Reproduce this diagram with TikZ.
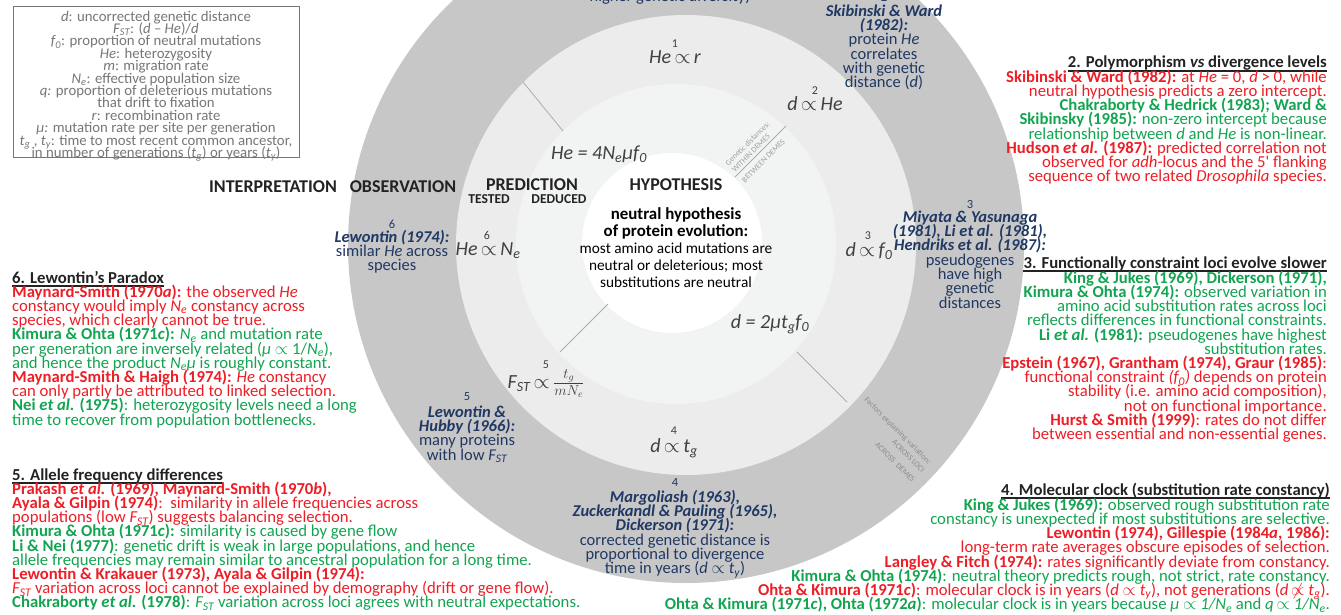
\documentclass[tikz,border=0pt]{standalone}
\usepackage{fontspec}
\setmainfont{Carlito}
\usetikzlibrary{calc}
\definecolor{cred}{RGB}{236,30,38}
\definecolor{cgrn}{RGB}{18,164,80}
\definecolor{cblu}{RGB}{31,56,100}
\definecolor{cdark}{RGB}{34,34,34}
\definecolor{cform}{RGB}{64,64,64}
\definecolor{cleg}{RGB}{118,118,118}
\definecolor{ringA}{RGB}{200,199,199}
\definecolor{ringB}{RGB}{236,236,236}
\definecolor{ringC}{RGB}{242,243,243}
\definecolor{cline}{RGB}{172,172,172}
\definecolor{clabA}{RGB}{160,160,160}
\definecolor{clabB}{RGB}{140,140,140}
\newcommand\rtx[1]{\textcolor{cred}{#1}}
\newcommand\gtx[1]{\textcolor{cgrn}{#1}}
\newcommand\ppto{\ensuremath{\mathord{\propto}}}
\newcommand\nppto{\ensuremath{\mathord{\not\propto}}}
\newcommand\fst{\rule{0pt}{13pt}}
\lineskiplimit=-100pt
\lineskip=0pt
\begin{document}
\begin{tikzpicture}[x=1pt,y=-1pt,
  sec/.style={inner sep=0pt, font=\fontsize{16.7}{14.2}\selectfont},
  head/.style={inner sep=0pt, text=cdark, font=\fontsize{16.7}{14.2}\selectfont\bfseries},
  uline/.style={cdark, line width=1.5pt},
  obs/.style={inner sep=0pt, align=center, text=cblu, anchor=north, font=\fontsize{16.5}{14.3}\selectfont},
  onum/.style={inner sep=0pt, text=cblu, font=\fontsize{12.5}{12}\selectfont},
  fnum/.style={inner sep=0pt, text=cform, font=\fontsize{12}{12}\selectfont},
  form/.style={inner sep=0pt, text=cform, anchor=base, font=\fontsize{20}{20}\selectfont\itshape},
  hdr/.style={inner sep=0pt, text=cdark, anchor=base, font=\fontsize{18}{18}\selectfont\bfseries},
  subhdr/.style={inner sep=0pt, text=cdark, anchor=base, font=\fontsize{13.6}{14}\selectfont\bfseries},
  sepline/.style={cline, line width=0.8pt},
  legtext/.style={inner sep=0pt, text=cleg, align=center, anchor=north, font=\fontsize{14.8}{12.4}\selectfont},
  tinyA/.style={inner sep=0pt, text=clabA, font=\fontsize{8}{8}\selectfont},
  tinyB/.style={inner sep=0pt, text=clabB, font=\fontsize{8}{8}\selectfont}]
\useasboundingbox (0,0) rectangle (1341,615);
% rings
\fill[ringA] (686,245) circle[radius=338];
\fill[ringB] (686,245) circle[radius=230];
\fill[ringC] (676,244) circle[radius=160];
\fill[white] (672,243) circle[radius=90];
% dividing lines
\coordinate (nwA) at (563,131); \coordinate (nwB) at (523,82);
\coordinate (seA) at (797,352); \coordinate (seB) at (847,402);
\coordinate (neA) at (735,177); \coordinate (neB) at (786,126);
\coordinate (swA) at (608,304); \coordinate (swB) at (560,352);
\draw[sepline] (nwA) -- (nwB);
\draw[sepline] (seA) -- (seB);
\draw[sepline] (neA) -- (neB);
\draw[sepline] (swA) -- (swB);
% small rotated labels
\node[tinyA, rotate=45] (gd) at (747.5,143.5) {Genetic distances:};
\node[tinyA, rotate=45] (wd) at (751,153) {WITHIN DEMES};
\node[tinyA, rotate=45] (bd) at (763.5,161) {BETWEEN DEMES};
\node[tinyB, rotate=-45] (fe) at (897.5,431) {Factors explaining variation:};
\node[tinyB, rotate=-45] (al) at (908.5,456) {ACROSS LOCI};
\node[tinyB, rotate=-45] (ad) at (895,462) {ACROSS\ \ DEMES};
% legend
\node[draw=cleg, line width=0.9pt, minimum width=286, minimum height=151, inner sep=0pt] (legendbox) at (156,81.5) {};
\node[legtext] (legend) at (156,9.5)
  {\rule{0pt}{11.5pt}\textit{d}: uncorrected genetic distance\\
   \textit{F\textsubscript{ST}}: (\textit{d} -- \textit{He})/\textit{d}\\
   \textit{f\textsubscript{0}}: proportion of neutral mutations\\
   \textit{He}: heterozygosity\\
   \textit{m}: migration rate\\
   \textit{N\textsubscript{e}}: effective population size\\
   \textit{q:} proportion of deleterious mutations\\
   that drift to fixation\\
   \textit{r}: recombination rate\\
   \textit{μ:} mutation rate per site per generation\\
   \textit{t\textsubscript{g}} , \textit{t\textsubscript{y}}: time to most recent common ancestor,\\
   in number of generations (\textit{t\textsubscript{g}}) or years (\textit{t\textsubscript{y}})};
% column headers
\node[hdr] (hint) at (273,192) {INTERPRETATION};
\node[hdr] (hobs) at (403,192) {OBSERVATION};
\node[hdr] (hpred) at (532,190) {PREDICTION};
\node[subhdr] (htest) at (489,203) {TESTED};
\node[subhdr] (hded) at (559,203) {DEDUCED};
\node[hdr] (hhyp) at (676,190) {HYPOTHESIS};
% hypothesis
\node[inner sep=0pt, align=center, anchor=north, text=black, font=\fontsize{15.3}{17}\selectfont] (hyptext) at (676,206)
  {\fst{\fontsize{16.9}{17}\selectfont\bfseries neutral hypothesis}\\
   {\fontsize{16.9}{17}\selectfont\bfseries of protein evolution:}\\
   most amino acid mutations are\\
   neutral or deleterious; most\\
   substitutions are neutral};
% predictions
\node[fnum] (p1n) at (675,44) {1};
\node[form] (p1) at (675,64) {He\,\ppto\,r};
\node[fnum] (p2n) at (815,91) {2};
\node[form] (p2) at (815,111) {d\,\ppto\,He};
\node[form] (pHe) at (599,159) {He = 4N\textsubscript{e}μf\textsubscript{0}};
\node[fnum] (p6n) at (487,235) {6};
\node[form] (p6) at (488,255) {He\,\ppto\,N\textsubscript{e}};
\node[fnum] (p3n) at (868,236) {3};
\node[form] (p3) at (869,256) {d\,\ppto\,f\textsubscript{0}};
\node[form] (pd) at (770,328) {d = 2μt\textsubscript{g}f\textsubscript{0}};
\node[fnum] (p5n) at (546,365) {5};
\node[form] (p5) at (546,388) {F\textsubscript{ST}\,\ppto\,\(\frac{t_g}{mN_e}\)};
\node[fnum] (p4n) at (674,431) {4};
\node[form] (p4) at (674,452) {d\,\ppto\,t\textsubscript{g}};
% observations
\node[obs, anchor=base] (o1) at (670,1.5) {higher genetic diversity)};
\node[onum] (o2n) at (884,-3) {2};
\node[obs] (o2) at (884,3) {\fst\textbf{\textit{Skibinski \& Ward}}\\ \textbf{\textit{(1982):}}\\ protein \textit{He}\\ correlates\\ with genetic\\ distance (\textit{d})};
\node[onum] (o3n) at (970,204) {3};
\node[obs] (o3) at (970,209) {\fst\textbf{\textit{Miyata \& Yasunaga}}\\ \textbf{\textit{(1981), Li et al. (1981),}}\\ \textbf{\textit{Hendriks et al. (1987):}}\\ pseudogenes\\ have high\\ genetic\\ distances};
\node[onum] (o6n) at (392,224) {6};
\node[obs] (o6) at (392,229) {\fst\textbf{\textit{Lewontin (1974):}}\\ similar \textit{He} across\\ species};
\node[onum] (o5n) at (467,397) {5};
\node[obs] (o5) at (467,404) {\fst\textbf{\textit{Lewontin \&}}\\ \textbf{\textit{Hubby (1966):}}\\ many proteins\\ with low \textit{F\textsubscript{ST}}};
\node[onum] (o4n) at (675,482) {4};
\node[obs] (o4) at (675,489) {\fst\textbf{\textit{Margoliash (1963),}}\\ \textbf{\textit{Zuckerkandl \& Pauling (1965),}}\\ \textbf{\textit{Dickerson (1971):}}\\ corrected genetic distance is\\ proportional to divergence\\ time in years (\textit{d} \ppto{} \textit{t\textsubscript{y}})};
% section 2
\node[head, anchor=base east] (h2) at (1327,68) {2. Polymorphism \textit{vs} divergence levels};
\draw[uline] ([yshift=-2.8pt]h2.base west) -- ([yshift=-2.8pt]h2.base east);
\node[sec, align=right, anchor=north east] (s2) at (1327,69)
  {\fst\rtx{\textbf{Skibinski \& Ward (1982):} at \textit{He} = 0, \textit{d} > 0, while}\\
   \rtx{neutral hypothesis predicts a zero intercept.}\\
   \gtx{\textbf{Chakraborty \& Hedrick (1983); Ward \&}}\\
   \gtx{\textbf{Skibinsky (1985):} non-zero intercept because}\\
   \gtx{relationship between \textit{d} and \textit{He} is non-linear.}\\
   \rtx{\textbf{Hudson \textit{et al.} (1987):} predicted correlation not}\\
   \rtx{observed for \textit{adh}-locus and the 5\textquotesingle{} flanking}\\
   \rtx{sequence of two related \textit{Drosophila} species.}};
% section 3
\node[head, anchor=base east] (h3) at (1327,268) {3. Functionally constraint loci evolve slower};
\draw[uline] ([yshift=-2.8pt]h3.base west) -- ([yshift=-2.8pt]h3.base east);
\node[sec, align=right, anchor=north east] (s3) at (1327,270)
  {\fst\gtx{\textbf{King \& Jukes (1969), Dickerson (1971),}}\\
   \gtx{\textbf{Kimura \& Ohta (1974):} observed variation in}\\
   \gtx{amino acid substitution rates across loci}\\
   \gtx{reflects differences in functional constraints.}\\
   \gtx{\textbf{Li \textit{et al.} (1981):} pseudogenes have highest}\\
   \gtx{substitution rates.}\\
   \rtx{\textbf{Epstein (1967), Grantham (1974), Graur (1985)}:}\\
   \rtx{functional constraint \textit{(f\textsubscript{0})} depends on protein}\\
   \rtx{stability (i.e. amino acid composition),}\\
   \rtx{not on functional importance.}\\
   \rtx{\textbf{Hurst \& Smith (1999)}: rates do not differ}\\
   \rtx{between essential and non-essential genes.}};
% section 4
\node[head, anchor=base east] (h4) at (1330,495) {4. Molecular clock (substitution rate constancy)};
\draw[uline] ([yshift=-2.8pt]h4.base west) -- ([yshift=-2.8pt]h4.base east);
\node[sec, align=right, anchor=north east] (s4) at (1330,497)
  {\fst\gtx{\textbf{King \& Jukes (1969):} observed rough substitution rate}\\
   \gtx{constancy is unexpected if most substitutions are selective.}\\
   \rtx{\textbf{Lewontin (1974), Gillespie (1984\textit{a}, 1986):}}\\
   \rtx{long-term rate averages obscure episodes of selection.}\\
   \rtx{\textbf{Langley \& Fitch (1974):} rates significantly deviate from constancy.}\\
   \gtx{\textbf{Kimura \& Ohta (1974)}: neutral theory predicts rough, not strict, rate constancy.}\\
   \rtx{\textbf{Ohta \& Kimura (1971\textit{c})}: molecular clock is in years (\textit{d} \ppto{} \textit{t\textsubscript{y}}), not generations (\textit{d}\,\nppto{} \textit{t\textsubscript{g}}).}\\
   \gtx{\textbf{Ohta \& Kimura (1971\textit{c}), Ohta (1972\textit{a})}: molecular clock is in years because \textit{μ} \ppto{} \textit{1/N\textsubscript{e}} and \textit{q}\,\ppto{} \textit{1/N\textsubscript{e}}.}};
% section 6
\node[head, anchor=base west] (h6) at (12,283) {6. Lewontin’s Paradox};
\draw[uline] ([yshift=-2.8pt]h6.base west) -- ([yshift=-2.8pt]h6.base east);
\node[sec, align=left, anchor=north west] (s6) at (12,284)
  {\fst\rtx{\textbf{Maynard-Smith (1970\textit{a}):} the observed \textit{He}}\\
   \rtx{constancy would imply \textit{N\textsubscript{e}} constancy across}\\
   \rtx{species, which clearly cannot be true.}\\
   \gtx{\textbf{Kimura \& Ohta (1971\textit{c}):} \textit{N\textsubscript{e}} and mutation rate}\\
   \gtx{per generation are inversely related (\textit{μ} \ppto{} 1/\textit{N\textsubscript{e}}),}\\
   \gtx{and hence the product \textit{N\textsubscript{e}μ} is roughly constant.}\\
   \rtx{\textbf{Maynard-Smith \& Haigh (1974):} \textit{He} constancy}\\
   \rtx{can only partly be attributed to linked selection.}\\
   \gtx{\textbf{Nei \textit{et al.} (1975)}: heterozygosity levels need a long}\\
   \gtx{time to recover from population bottlenecks.}};
% section 5
\node[head, anchor=base west] (h5) at (12,480) {5. Allele frequency differences};
\draw[uline] ([yshift=-2.8pt]h5.base west) -- ([yshift=-2.8pt]h5.base east);
\node[sec, align=left, anchor=north west] (s5) at (12,481)
  {\fst\rtx{\textbf{Prakash \textit{et al.} (1969), Maynard-Smith (1970\textit{b}),}}\\
   \rtx{\textbf{Ayala \& Gilpin (1974)}:\ \ similarity in allele frequencies across}\\
   \rtx{populations (low \textit{F\textsubscript{ST}}) suggests balancing selection.}\\
   \gtx{\textbf{Kimura \& Ohta (1971\textit{c}):} similarity is caused by gene flow}\\
   \gtx{\textbf{Li \& Nei (1977)}: genetic drift is weak in large populations, and hence}\\
   \gtx{allele frequencies may remain similar to ancestral population for a long time.}\\
   \rtx{\textbf{Lewontin \& Krakauer (1973), Ayala \& Gilpin (1974):}}\\
   \rtx{\textit{F\textsubscript{ST}} variation across loci cannot be explained by demography (drift or gene flow).}\\
   \gtx{\textbf{Chakraborty \textit{et al.} (1978)}: \textit{F\textsubscript{ST}} variation across loci agrees with neutral expectations.}};
\end{tikzpicture}
\end{document}
